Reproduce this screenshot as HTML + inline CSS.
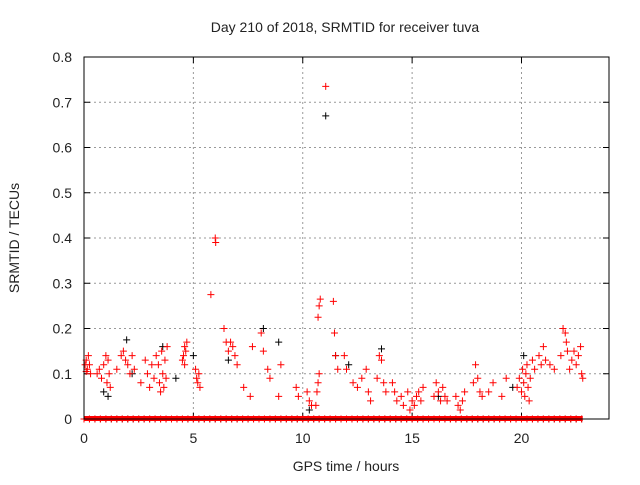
<!DOCTYPE html>
<html><head><meta charset="utf-8"><style>
body{margin:0;background:#fff}
svg text{font-family:"Liberation Sans",sans-serif;font-size:14px;fill:#222}
</style></head><body>
<svg id="c" width="640" height="480" xmlns="http://www.w3.org/2000/svg">
<text x="345" y="32" text-anchor="middle">Day 210 of 2018, SRMTID for receiver tuva</text>
<text x="346" y="471" text-anchor="middle">GPS time / hours</text>
<text transform="translate(19,238) rotate(-90)" text-anchor="middle">SRMTID / TECUs</text>
<g id="grid"></g><g id="axes"></g><g id="marks"></g>
<rect x="84" y="57" width="525" height="362" fill="none" stroke="#000" stroke-width="1"/>
</svg>
<script>
const xTicks=[0,5,10,15,20];
const yTicks=[0,0.1,0.2,0.3,0.4,0.5,0.6,0.7,0.8];
const yTickLabels=["0","0.1","0.2","0.3","0.4","0.5","0.6","0.7","0.8"];
const redT=[0.05,0.1,0.15,0.2,0.25,0.3,0.1,0.6,0.7,0.8,0.9,1.0,1.05,1.1,1.15,1.2,1.5,1.7,1.8,1.9,2.0,2.1,2.2,2.3,2.6,2.8,2.9,3.0,3.1,3.2,3.3,3.4,3.45,3.5,3.55,3.6,3.65,3.7,3.75,3.8,4.5,4.55,4.6,4.65,4.7,4.6,5.1,5.15,5.2,5.25,5.3,5.8,6.0,6.02,6.4,6.5,6.6,6.7,6.8,6.9,7.0,7.3,7.6,7.7,8.1,8.2,8.4,8.5,8.9,9.0,9.7,9.8,10.2,10.3,10.4,10.6,10.65,10.7,10.75,10.7,10.75,10.8,11.05,11.4,11.45,11.5,11.6,11.9,12.0,12.3,12.5,12.7,12.9,13.0,13.1,13.4,13.5,13.6,13.7,13.8,14.1,14.2,14.3,14.5,14.6,14.8,14.9,15.0,15.1,15.2,15.3,15.4,15.5,16.0,16.1,16.2,16.3,16.4,16.5,16.6,17.0,17.1,17.2,17.3,17.4,17.8,17.9,18.0,18.1,18.2,18.5,18.7,19.1,19.3,19.8,19.9,20.0,20.05,20.1,20.15,20.2,20.25,20.3,20.35,20.4,20.5,20.6,20.8,20.9,21.0,21.1,21.3,21.5,21.8,21.9,22.0,22.05,22.1,22.2,22.3,22.4,22.5,22.6,22.7,22.75,22.8];
const redV=[0.12,0.13,0.11,0.14,0.12,0.10,0.105,0.10,0.11,0.09,0.12,0.14,0.08,0.13,0.10,0.07,0.11,0.14,0.15,0.13,0.12,0.10,0.14,0.11,0.08,0.13,0.10,0.07,0.12,0.09,0.14,0.12,0.08,0.06,0.15,0.10,0.07,0.13,0.09,0.16,0.13,0.14,0.16,0.15,0.17,0.12,0.11,0.09,0.08,0.10,0.07,0.275,0.40,0.39,0.20,0.17,0.15,0.17,0.16,0.14,0.12,0.07,0.05,0.16,0.19,0.15,0.11,0.09,0.05,0.12,0.07,0.05,0.06,0.04,0.03,0.03,0.06,0.08,0.10,0.225,0.25,0.265,0.735,0.26,0.19,0.14,0.11,0.14,0.11,0.08,0.07,0.09,0.11,0.06,0.04,0.09,0.14,0.13,0.08,0.06,0.08,0.06,0.04,0.05,0.03,0.06,0.02,0.04,0.03,0.05,0.06,0.04,0.07,0.05,0.08,0.06,0.04,0.07,0.05,0.04,0.05,0.03,0.02,0.04,0.06,0.08,0.12,0.09,0.06,0.05,0.06,0.08,0.05,0.09,0.07,0.09,0.06,0.11,0.08,0.05,0.10,0.12,0.07,0.04,0.09,0.13,0.11,0.14,0.12,0.16,0.13,0.12,0.11,0.14,0.20,0.19,0.17,0.15,0.11,0.13,0.15,0.12,0.14,0.16,0.10,0.09];
const blackT=[0.9,1.1,1.95,3.6,5.0,8.2,8.9,10.3,11.05,11.5,13.6,20.1,2.2,4.2,6.6,12.1,16.2,19.6];
const blackV=[0.06,0.05,0.175,0.16,0.14,0.20,0.17,0.02,0.67,0.14,0.155,0.14,0.10,0.09,0.13,0.12,0.05,0.07];
const zeroT=[0,0.25,0.5,0.75,1.0,1.25,1.5,1.75,2.0,2.25,2.5,2.75,3.0,3.25,3.5,3.75,4.0,4.25,4.5,4.75,5.0,5.25,5.5,5.75,6.0,6.25,6.5,6.75,7.0,7.25,7.5,7.75,8.0,8.25,8.5,8.75,9.0,9.25,9.5,9.75,10.0,10.25,10.5,10.75,11.0,11.25,11.5,11.75,12.0,12.25,12.5,12.75,13.0,13.25,13.5,13.75,14.0,14.25,14.5,14.75,15.0,15.25,15.5,15.75,16.0,16.25,16.5,16.75,17.0,17.25,17.5,17.75,18.0,18.25,18.5,18.75,19.0,19.25,19.5,19.75,20.0,20.25,20.5,20.75,21.0,21.25,21.5,21.75,22.0,22.25,22.5,22.75];
const X=t=>84+t*525/24, Y=v=>419-v*362/0.8;
const NS="http://www.w3.org/2000/svg";
const grid=document.getElementById('grid'),axes=document.getElementById('axes'),marks=document.getElementById('marks');
function ln(p,x1,y1,x2,y2,st,da){const l=document.createElementNS(NS,'line');l.setAttribute('x1',x1);l.setAttribute('y1',y1);l.setAttribute('x2',x2);l.setAttribute('y2',y2);l.setAttribute('stroke',st);if(da)l.setAttribute('stroke-dasharray',da);p.appendChild(l);return l;}
function tx(x,y,s,a){const t=document.createElementNS(NS,'text');t.setAttribute('x',x);t.setAttribute('y',y);t.setAttribute('text-anchor',a);t.textContent=s;axes.appendChild(t);return t;}
xTicks.forEach(v=>{const x=X(v);
 if(v>0){const g=ln(grid,x,57,x,419,'#999','2,3');
 
 }
 ln(axes,x,419,x,413,'#000');ln(axes,x,57,x,63,'#000');
 const t=tx(x,443,String(v),'middle');
 
 });
yTicks.forEach((v,i)=>{const y=Y(v);
 if(v>0&&v<0.8){const g=ln(grid,84,y,609,y,'#999','2,3');
 
 }
 ln(axes,84,y,90,y,'#000');ln(axes,609,y,603,y,'#000');
 const t=tx(72,y+5,yTickLabels[i],'end');
 
 });
function plus(t,v,c,name){const x=X(t),y=Y(v);const p=document.createElementNS(NS,'path');
 p.setAttribute('d',`M${x-3.5},${y}h7M${x},${y-3.5}v7`);p.setAttribute('stroke',c);p.setAttribute('stroke-width','1');
 
 
 marks.appendChild(p);}
blackT.forEach((t,i)=>plus(t,blackV[i],'#000','black-point'));
zeroT.forEach(t=>plus(t,0,'#000','black-zero-point'));
redT.forEach((t,i)=>plus(t,redV[i],'#f00','red-point'));
zeroT.forEach(t=>plus(t,0,'#f00','red-zero-point'));
const zb=document.createElementNS(NS,'rect');zb.setAttribute('x',84);zb.setAttribute('y',416);zb.setAttribute('width',X(22.8)-84);zb.setAttribute('height',5);zb.setAttribute('fill','#f00');


marks.appendChild(zb);
</script>
</body></html>
